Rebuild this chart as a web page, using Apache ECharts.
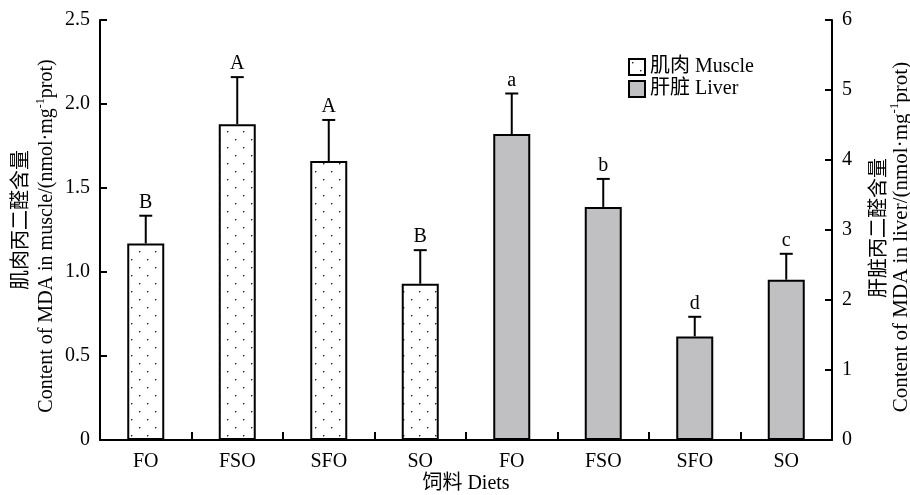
<!DOCTYPE html>
<html>
<head>
<meta charset="utf-8">
<script src="https://cdn.jsdelivr.net/npm/echarts@6/dist/echarts.min.js"></script>
<style>
  html, body { margin: 0; padding: 0; background: #fff; }
  #chart { width: 910px; height: 495px; }
</style>
</head>
<body>
<div id="chart"></div>
<script>
// Diet groups (muscle block then liver block)
const categories = ['FO', 'FSO', 'SFO', 'SO', 'FO', 'FSO', 'SFO', 'SO'];

// MDA content in muscle (left axis), nmol/mg prot
const muscleMean = [1.17, 1.88, 1.66, 0.93];
const muscleSD   = [0.165, 0.28, 0.245, 0.20];
const muscleSig  = ['B', 'A', 'A', 'B'];

// MDA content in liver (right axis), nmol/mg prot
const liverMean = [4.37, 3.33, 1.48, 2.29];
const liverSD   = [0.58, 0.40, 0.28, 0.37];
const liverSig  = ['a', 'b', 'd', 'c'];

const leftTicks = { min: 0, max: 2.5, interval: 0.5 };
const rightTicks = { min: 0, max: 6, interval: 1 };

const SERIF = '"Liberation Serif", "Times New Roman", "Noto Sans CJK SC", serif';
const CJK = '"Noto Sans CJK SC", sans-serif';

// Stippled fill used for the muscle bars
function dotPattern() {
  const c = document.createElement('canvas');
  c.width = 16; c.height = 16;
  const g = c.getContext('2d');
  g.fillStyle = '#ffffff';
  g.fillRect(0, 0, 16, 16);
  g.fillStyle = '#222222';
  g.fillRect(3, 3, 1.4, 1.4);
  g.fillRect(11, 11, 1.4, 1.4);
  return c;
}

const muscleBars = muscleMean.concat(['-', '-', '-', '-']);
const liverBars = ['-', '-', '-', '-'].concat(liverMean);
const muscleErr = muscleMean.map((v, i) => [i, v, muscleSD[i]]);
const liverErr = liverMean.map((v, i) => [i + 4, v, liverSD[i]]);

// Upper error whisker with cap, plus the significance letter above it
function errorRenderer(letters) {
  return function (params, api) {
    const base = api.coord([api.value(0), api.value(1)]);
    const top = api.coord([api.value(0), api.value(1) + api.value(2)]);
    const half = 6.5;
    const lineStyle = { stroke: '#000', lineWidth: 2 };
    return {
      type: 'group',
      children: [
        { type: 'line', shape: { x1: base[0], y1: base[1], x2: top[0], y2: top[1] }, style: lineStyle },
        { type: 'line', shape: { x1: top[0] - half, y1: top[1], x2: top[0] + half, y2: top[1] }, style: lineStyle },
        {
          type: 'text',
          style: {
            text: letters[params.dataIndex],
            x: top[0], y: top[1] - 3,
            align: 'center', verticalAlign: 'bottom',
            fontSize: 20, fontFamily: SERIF, fill: '#000'
          }
        }
      ]
    };
  };
}

const chart = echarts.init(document.getElementById('chart'), null, { renderer: 'canvas' });

const axisText = { color: '#000', fontSize: 20, fontFamily: SERIF };
const blackLine = { show: true, lineStyle: { color: '#000', width: 2 } };

function richTitle(parts) {
  // parts: array of [text, isSuperscript]
  return parts.map(p => (p[1] ? '{sup|' + p[0] + '}' : '{en|' + p[0] + '}')).join('');
}

function enRich(size) {
  return {
    en: { fontSize: size, fontFamily: SERIF, fill: '#000', lineHeight: size + 2, verticalAlign: 'bottom' },
    sup: { fontSize: Math.round(size * 0.6), fontFamily: SERIF, fill: '#000', lineHeight: size + 2, verticalAlign: 'top' }
  };
}

chart.setOption({
  animation: false,
  grid: { left: 100, right: 78, top: 20, bottom: 55 },
  legend: {
    data: ['肌肉 Muscle', '肝脏 Liver'],
    orient: 'vertical',
    left: 623, top: 52,
    icon: 'rect',
    itemWidth: 16, itemHeight: 16, itemGap: 2,
    textStyle: { color: '#000', fontSize: 20, fontFamily: SERIF }
  },
  xAxis: {
    type: 'category',
    data: categories,
    boundaryGap: true,
    axisLine: blackLine,
    axisTick: { show: true, inside: true, length: 8, interval: 0, lineStyle: { color: '#000', width: 2 } },
    axisLabel: Object.assign({ margin: 12, interval: 0 }, axisText),
    splitLine: { show: false }
  },
  yAxis: [
    {
      type: 'value',
      min: leftTicks.min, max: leftTicks.max, interval: leftTicks.interval,
      axisLine: blackLine,
      axisTick: { show: true, inside: true, length: 7, lineStyle: { color: '#000', width: 2 } },
      axisLabel: Object.assign({ margin: 10, formatter: v => (v === 0 ? '0' : v.toFixed(1)) }, axisText),
      splitLine: { show: false }
    },
    {
      type: 'value',
      position: 'right',
      min: rightTicks.min, max: rightTicks.max, interval: rightTicks.interval,
      axisLine: blackLine,
      axisTick: { show: true, inside: true, length: 7, lineStyle: { color: '#000', width: 2 } },
      axisLabel: Object.assign({ margin: 10 }, axisText),
      splitLine: { show: false }
    }
  ],
  series: [
    {
      name: '肌肉 Muscle',
      type: 'bar',
      yAxisIndex: 0,
      data: muscleBars,
      barWidth: 37,
      barGap: '-100%',
      itemStyle: { color: { image: dotPattern(), repeat: 'repeat' }, borderColor: '#000', borderWidth: 2 }
    },
    {
      name: '肝脏 Liver',
      type: 'bar',
      yAxisIndex: 1,
      data: liverBars,
      barWidth: 37,
      barGap: '-100%',
      itemStyle: { color: '#c0bfc2', borderColor: '#000', borderWidth: 2 }
    },
    { type: 'custom', yAxisIndex: 0, data: muscleErr, renderItem: errorRenderer(muscleSig), z: 5 },
    { type: 'custom', yAxisIndex: 1, data: liverErr, renderItem: errorRenderer(liverSig), z: 5 }
  ],
  graphic: [
    {
      type: 'text', x: 19, y: 220, rotation: Math.PI / 2,
      style: { text: '肌肉丙二醛含量', fontSize: 20, fontFamily: CJK, fill: '#000', align: 'center', verticalAlign: 'middle' }
    },
    {
      type: 'text', x: 46, y: 236, rotation: Math.PI / 2,
      style: {
        text: richTitle([['Content of MDA in muscle/(nmol·mg', false], ['-1', true], ['prot)', false]]),
        rich: enRich(20), align: 'center', verticalAlign: 'middle'
      }
    },
    {
      type: 'text', x: 877, y: 228, rotation: Math.PI / 2,
      style: { text: '肝脏丙二醛含量', fontSize: 20, fontFamily: CJK, fill: '#000', align: 'center', verticalAlign: 'middle' }
    },
    {
      type: 'text', x: 900, y: 237, rotation: Math.PI / 2,
      style: {
        text: richTitle([['Content of MDA in liver/(nmol·mg', false], ['-1', true], ['prot)', false]]),
        rich: enRich(21), align: 'center', verticalAlign: 'middle'
      }
    },
    {
      type: 'text', x: 466, y: 484,
      style: { text: '饲料 Diets', fontSize: 20, fontFamily: SERIF, fill: '#000', align: 'center', verticalAlign: 'middle' }
    }
  ]
});
</script>
</body>
</html>
